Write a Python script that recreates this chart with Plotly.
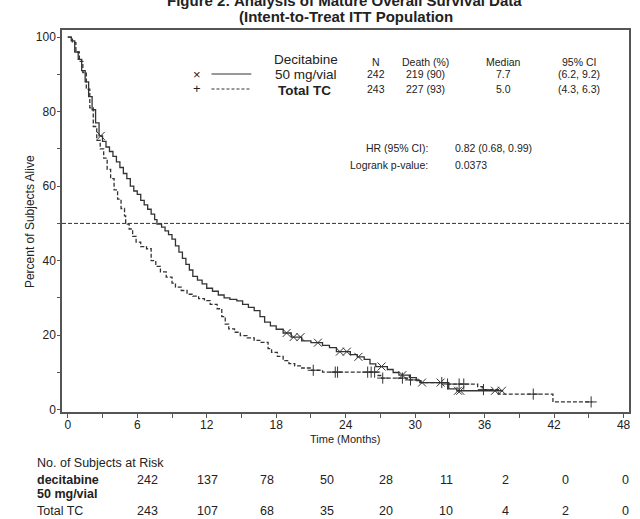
import numpy as np
import plotly.graph_objects as go

# ---------------- data ----------------
dec_time = [0, 0.3, 0.6, 0.9, 1.2, 1.5, 1.8, 2.1, 2.4, 2.7, 3.0, 3.3, 3.6, 3.9, 4.2, 4.5,
            4.8, 5.1, 5.4, 5.7, 6.0, 6.3, 6.6, 6.9, 7.2, 7.5, 7.7, 8.1, 8.4, 8.7, 9.0, 9.3,
            9.6, 9.9, 10.2, 10.5, 10.8, 11.2, 11.6, 12.0, 12.5, 13.0, 13.5, 14.0, 14.6, 15.1,
            15.6, 16.1, 16.6, 17.0, 17.5, 18.0, 18.6, 19.3, 20.2, 21.0, 22.0, 22.6, 23.2, 24.4,
            25.0, 25.6, 26.1, 26.6, 27.6, 28.1, 28.6, 29.5, 30.1, 30.5, 32.9, 33.6, 37.6]
dec_surv = [100, 99, 96, 94, 91, 88, 84, 80.5, 77, 73.5, 72, 70.5, 69.3, 68, 66.5, 65,
            63.4, 62, 60, 58.7, 57.8, 56.2, 55, 53.8, 52.5, 51, 49.8, 49, 48, 47, 45.8, 44,
            42.3, 40.6, 39, 37.5, 35.8, 34.8, 33.8, 32.6, 31.8, 30.8, 30, 29.6, 29.2, 28.3,
            27.5, 26.6, 25, 23.5, 22.5, 21.6, 20.6, 19.5, 18.5, 18.0, 17.3, 16.7, 15.6, 14.8,
            14.2, 13.5, 12.3, 11.6, 10.8, 10.0, 9.3, 8.6, 7.8, 7.3, 5.6, 5.1, 5.1]
dec_censor = [2.85, 18.9, 19.5, 20.1, 21.6, 23.5, 24.1, 25.1, 27.1, 28.9, 30.6, 32.2,
              33.7, 33.9, 36.9, 37.5]

tc_time = [0, 0.2, 0.4, 0.7, 1.0, 1.3, 1.6, 1.9, 2.2, 2.5, 2.8, 3.1, 3.4, 3.7, 4.0, 4.3,
           4.6, 4.9, 5.0, 5.3, 5.6, 5.9, 6.3, 6.8, 7.2, 7.6, 8.0, 8.5, 9.0, 9.3, 9.8, 10.3,
           10.8, 11.3, 11.8, 12.3, 12.9, 13.3, 13.6, 13.9, 14.4, 14.9, 15.5, 16.1, 16.7, 17.3,
           17.6, 18.1, 18.6, 19.1, 19.6, 20.2, 21.0, 22.0, 26.8, 27.1, 29.3, 30.4, 32.7, 35.4,
           35.8, 37.2, 41.9, 45.3]
tc_surv = [100, 100, 98.5, 96, 93.5, 90.5, 86, 81, 76, 72.3, 70, 67.5, 64.5, 62, 59, 56.5,
           54, 52, 49.8, 48.5, 46.5, 45, 43.8, 43.2, 40, 38.5, 37, 35.6, 34, 32.9, 32, 31,
           30.5, 29.8, 29.3, 28.3, 27.1, 25, 23, 21.7, 20.8, 19.9, 19.3, 18.6, 18.1, 16.4,
           15.4, 14.3, 13.2, 12.4, 11.8, 11.2, 10.6, 10.1, 9.2, 8.5, 8.0, 7.3, 6.9, 6.2,
           5.4, 4.2, 2.1, 2.1]
tc_censor = [21.2, 23.1, 23.3, 25.9, 26.2, 26.5, 27.2, 28.9, 29.6, 32.3, 32.8, 33.8, 34.2,
             35.9, 40.2, 45.2]

x_ticks = [0, 6, 12, 18, 24, 30, 36, 42, 48]
y_ticks = [0, 20, 40, 60, 80, 100]

legend_headers = ["N", "Death (%)", "Median", "95% CI"]
dec_stats = ["242", "219 (90)", "7.7", "(6.2, 9.2)"]
tc_stats = ["243", "227 (93)", "5.0", "(4.3, 6.3)"]
hr_labels = ["HR (95% CI):", "Logrank p-value:"]
hr_values = ["0.82 (0.68, 0.99)", "0.0373"]

risk_dec = [242, 137, 78, 50, 28, 11, 2, 0, 0]
risk_tc = [243, 107, 68, 35, 20, 10, 4, 2, 0]

# ---------------- geometry helpers ----------------
W, H = 640, 519
L, R, T, B = 62, 631, 30, 412


def px(x):
    return (x - L) / (R - L)


def py(y):
    return (B - y) / (B - T)


def surv_at(times, survs, t):
    idx = np.searchsorted(np.array(times), t, side="right") - 1
    return np.array(survs)[idx]


FONT = "Liberation Sans Narrow, Liberation Sans, Arial, sans-serif"
FONT_B = "Liberation Sans, Arial, sans-serif"
INK = "#222222"
LINE = "#333333"
AXIS = "#555555"

fig = go.Figure()

fig.add_trace(go.Scatter(x=dec_time, y=dec_surv, mode="lines", line_shape="hv",
                         line=dict(color=LINE, width=1.3), showlegend=False))
fig.add_trace(go.Scatter(x=tc_time, y=tc_surv, mode="lines", line_shape="hv",
                         line=dict(color=LINE, width=1.3, dash="4px,2px"), showlegend=False))
fig.add_trace(go.Scatter(x=dec_censor, y=surv_at(dec_time, dec_surv, dec_censor), mode="markers",
                         marker=dict(symbol="x-thin-open", size=8, color=LINE,
                                     line=dict(color=LINE, width=1)),
                         showlegend=False))
fig.add_trace(go.Scatter(x=tc_censor, y=surv_at(tc_time, tc_surv, tc_censor), mode="markers",
                         marker=dict(symbol="cross-thin-open", size=8, color=LINE,
                                     line=dict(color=LINE, width=1)),
                         showlegend=False))

# reference line at 50%
fig.add_shape(type="line", xref="paper", yref="y", x0=0, x1=1, y0=50, y1=50,
              line=dict(color=LINE, width=1, dash="4px,2px"))

ann = []


def add_text(text, x, y, size=11, anchor="center", bold=False, font=FONT, vanchor="middle"):
    if bold:
        text = "<b>" + text + "</b>"
    ann.append(dict(text=text, x=px(x), y=py(y), xref="paper", yref="paper",
                    xanchor=anchor, yanchor=vanchor, showarrow=False,
                    font=dict(size=size, color=INK, family=font)))


# title
add_text("Figure 2: Analysis of Mature Overall Survival Data", 345, 0, size=15, bold=True, font=FONT_B)
add_text("(Intent-to-Treat ITT Population", 347, 17, size=15, bold=True, font=FONT_B)

# legend block
add_text("Decitabine", 307, 59, size=13.5)
add_text("50 mg/vial", 307, 74, size=13.5)
add_text("Total TC", 305, 90, size=13.5, bold=True)
add_text("×", 197, 74, size=13)
add_text("+", 197, 89, size=13)
header_x = [377, 427, 505, 581]
for hx, h in zip(header_x, legend_headers):
    add_text(h, hx, 62, size=10.5)
for hx, v in zip(header_x, dec_stats):
    add_text(v, hx, 74, size=10.5)
for hx, v in zip(header_x, tc_stats):
    add_text(v, hx, 89, size=10.5)

fig.add_shape(type="line", xref="paper", yref="paper", x0=px(212), x1=px(252), y0=py(74), y1=py(74),
              line=dict(color=LINE, width=1))
fig.add_shape(type="line", xref="paper", yref="paper", x0=px(212), x1=px(252), y0=py(89), y1=py(89),
              line=dict(color=LINE, width=1, dash="3px,2px"))

# HR text
for i, (lab, val) in enumerate(zip(hr_labels, hr_values)):
    add_text(lab, 431, 148 + 17 * i, size=10.5, anchor="right")
    add_text(val, 454, 148 + 17 * i, size=10.5, anchor="left")

# axis titles
add_text("Time (Months)", 346, 439, size=11)
ann.append(dict(text="Percent of Subjects Alive", x=px(30), y=py(222), xref="paper", yref="paper",
                xanchor="center", yanchor="middle", showarrow=False, textangle=-90,
                font=dict(size=12, color=INK, family=FONT)))

# risk table
add_text("No. of Subjects at Risk", 35, 463, size=12.5, anchor="left")
add_text("decitabine", 35, 480, size=12.5, anchor="left", bold=True, font=FONT_B)
add_text("50 mg/vial", 35, 494, size=12.5, anchor="left", bold=True, font=FONT_B)
add_text("Total TC", 35, 511, size=12.5, anchor="left")
for i, (a, b) in enumerate(zip(risk_dec, risk_tc)):
    cx = 148 + 59.9 * i
    add_text(str(a), cx, 480, size=12.5)
    add_text(str(b), cx, 511, size=12.5)

fig.update_layout(
    width=W, height=H,
    margin=dict(l=L, r=W - R, t=T, b=H - B),
    paper_bgcolor="white", plot_bgcolor="white",
    annotations=ann,
    font=dict(family=FONT, color=INK),
    xaxis=dict(range=[-0.5, 48.47], tickvals=x_ticks, ticktext=[str(v) for v in x_ticks],
               showgrid=False, zeroline=False, showline=True, linecolor=AXIS, linewidth=1.5,
               mirror=True, ticks="outside", ticklen=4, tickcolor=AXIS,
               ticklabelstandoff=-3,
               minor=dict(dtick=3, tick0=0, ticks="outside", ticklen=4, tickcolor=AXIS),
               tickfont=dict(size=12, color=INK, family=FONT)),
    yaxis=dict(range=[-0.6, 101.9], tickvals=y_ticks, ticktext=[str(v) for v in y_ticks],
               showgrid=False, zeroline=False, showline=True, linecolor=AXIS, linewidth=1.5,
               mirror=True, ticks="outside", ticklen=3, tickcolor=AXIS,
               ticklabelstandoff=-1,
               minor=dict(dtick=10, tick0=0, ticks="outside", ticklen=3, tickcolor=AXIS),
               tickfont=dict(size=12, color=INK, family=FONT)),
)

fig.write_html("out.html", config={"displayModeBar": False})

# remove the default page margin so the figure sits at the window's top-left corner
with open("out.html", "r", encoding="utf-8") as f:
    html = f.read()
html = html.replace("<head>", "<head><style>html,body{margin:0;padding:0;overflow:hidden;}</style>", 1)
with open("out.html", "w", encoding="utf-8") as f:
    f.write(html)
